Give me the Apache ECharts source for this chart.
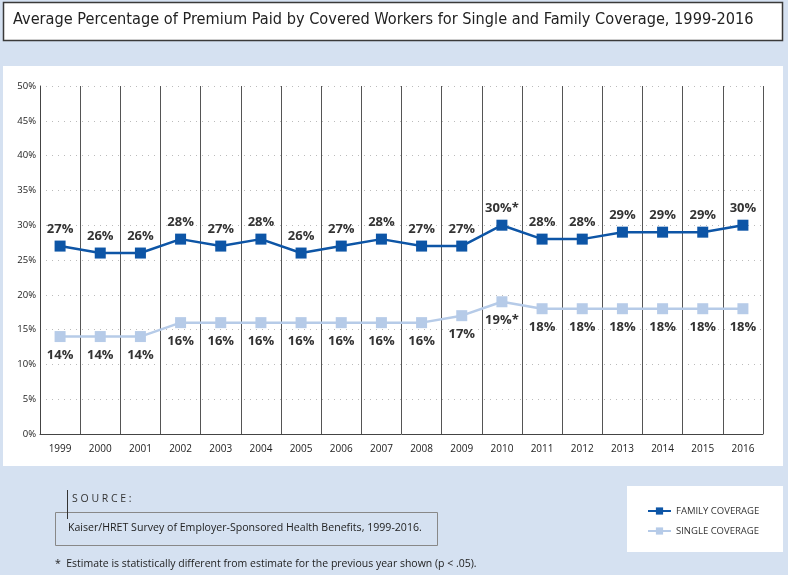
<!DOCTYPE html>
<html>
<head>
<meta charset="utf-8">
<script src="https://cdn.jsdelivr.net/npm/echarts@6/dist/echarts.min.js"></script>
<style>
  html, body { margin: 0; padding: 0; background: #d5e1f1; }
  #chart { width: 788px; height: 575px; }
</style>
</head>
<body>
<div id="chart"></div>
<script>
const years = ['1999', '2000', '2001', '2002', '2003', '2004', '2005', '2006', '2007',
  '2008', '2009', '2010', '2011', '2012', '2013', '2014', '2015', '2016']
const family = [27, 26, 26, 28, 27, 28, 26, 27, 28, 27, 27, 30, 28, 28, 29, 29, 29, 30]
const single = [14, 14, 14, 16, 16, 16, 16, 16, 16, 16, 17, 19, 18, 18, 18, 18, 18, 18]
// years flagged with * (significant change)
const flagged = ['2010']
const yTicks = [0, 5, 10, 15, 20, 25, 30, 35, 40, 45, 50]

const labelFmt = p => p.value + '%' + (flagged.includes(p.name) ? '*' : '')

const chart = echarts.init(document.getElementById('chart'))
const textFont = 'Open Sans'

chart.setOption({
  backgroundColor: '#d5e1f1',
  animation: false,
  graphic: [
    { type: 'rect', z: 0, shape: { x: 3.5, y: 2.5, width: 779, height: 38 },
      style: { fill: '#fff', stroke: '#3a3a3a', lineWidth: 1.5 } },
    { type: 'text', z: 1, left: 13, top: 12,
      style: { text: 'Average Percentage of Premium Paid by Covered Workers for Single and Family Coverage, 1999-2016',
        font: '16.2px "DejaVu Sans Condensed", sans-serif', fill: '#222' } },
    { type: 'rect', z: -1, shape: { x: 3, y: 66, width: 780, height: 400 },
      style: { fill: '#fff' } },
    { type: 'rect', z: 0, shape: { x: 627, y: 486, width: 156, height: 66 },
      style: { fill: '#fff' } },
    { type: 'line', z: 1, shape: { x1: 67.5, y1: 490, x2: 67.5, y2: 519 },
      style: { stroke: '#333', lineWidth: 1 } },
    { type: 'text', z: 1, left: 72, top: 494,
      style: { text: 'S O U R C E :', font: '10.5px "Open Sans", sans-serif', fill: '#333' } },
    { type: 'rect', z: 0, shape: { x: 55.5, y: 512.5, width: 382, height: 33 },
      style: { fill: 'none', stroke: '#888', lineWidth: 1 } },
    { type: 'text', z: 1, left: 68, top: 522,
      style: { text: 'Kaiser/HRET Survey of Employer-Sponsored Health Benefits, 1999-2016.',
        font: '10.6px "Open Sans", sans-serif', fill: '#222' } },
    { type: 'text', z: 1, left: 55, top: 559,
      style: { text: '*  Estimate is statistically different from estimate for the previous year shown (p < .05).',
        font: '10.5px "Open Sans", sans-serif', fill: '#222' } }
  ],
  grid: { left: 40, right: 25, top: 86, bottom: 141 },
  legend: {
    orient: 'vertical',
    left: 642,
    top: 501,
    itemWidth: 23,
    itemHeight: 9,
    itemGap: 10,
    textStyle: { fontFamily: textFont, fontSize: 9.5, color: '#333' },
    data: ['FAMILY COVERAGE', 'SINGLE COVERAGE']
  },
  xAxis: {
    type: 'category',
    data: years,
    boundaryGap: true,
    axisLine: { lineStyle: { color: '#444', width: 1 } },
    axisTick: { show: false },
    axisLabel: { fontFamily: textFont, fontSize: 10, color: '#222', margin: 10 },
    splitLine: { show: true, lineStyle: { color: '#555', width: 1 } }
  },
  yAxis: {
    type: 'value',
    min: 0,
    max: 50,
    interval: 5,
    axisLine: { show: true, lineStyle: { color: '#444', width: 1 } },
    axisTick: { show: false },
    axisLabel: { formatter: v => yTicks.includes(v) ? v + '%' : '',
      fontFamily: textFont, fontSize: 9.5, color: '#222', margin: 4 },
    splitLine: { lineStyle: { color: '#bbb', type: [1, 5], width: 1 } }
  },
  series: [
    {
      name: 'FAMILY COVERAGE',
      type: 'line',
      data: family,
      symbol: 'rect',
      symbolSize: 11,
      z: 3,
      itemStyle: { color: '#0d55a6' },
      lineStyle: { color: '#0d55a6', width: 2.5 },
      label: { show: true, position: 'top', distance: 5, formatter: labelFmt,
        fontFamily: textFont, fontWeight: 'bold', fontSize: 13, color: '#333' }
    },
    {
      name: 'SINGLE COVERAGE',
      type: 'line',
      data: single,
      symbol: 'rect',
      symbolSize: 11,
      z: 2,
      itemStyle: { color: '#b6cbe8' },
      lineStyle: { color: '#b6cbe8', width: 2.5 },
      label: { show: true, position: 'bottom', distance: 7, formatter: labelFmt,
        fontFamily: textFont, fontWeight: 'bold', fontSize: 13, color: '#333' }
    }
  ]
})
</script>
</body>
</html>
